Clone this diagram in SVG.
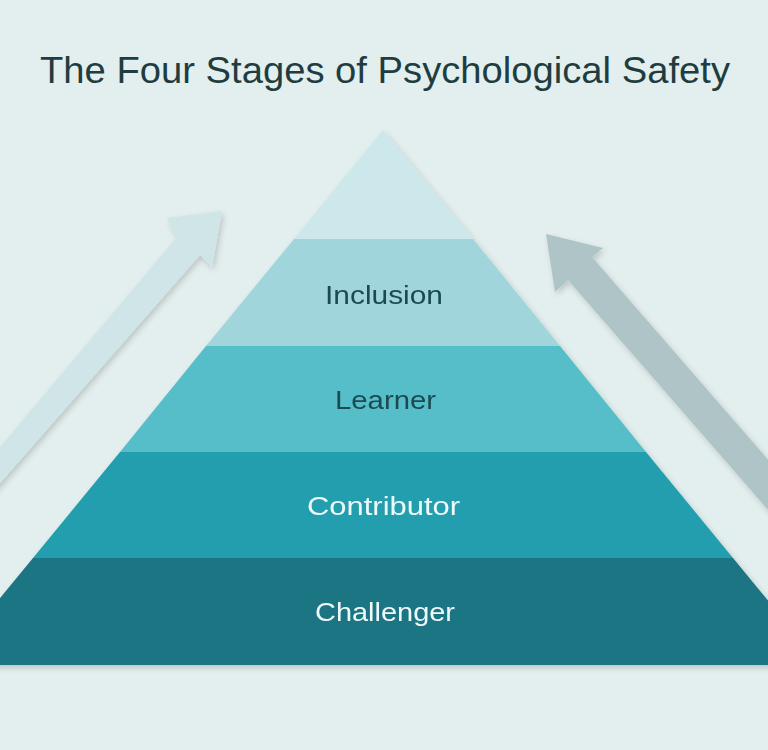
<svg xmlns="http://www.w3.org/2000/svg" width="768" height="750" viewBox="0 0 768 750">
  <defs>
    <filter id="shadow" x="-20%" y="-20%" width="140%" height="140%">
      <feGaussianBlur in="SourceAlpha" stdDeviation="3"/>
      <feOffset dx="2" dy="3" result="b"/>
      <feComponentTransfer><feFuncA type="linear" slope="0.18"/></feComponentTransfer>
      <feMerge><feMergeNode/><feMergeNode in="SourceGraphic"/></feMerge>
    </filter>
  </defs>
  <style>
    .title { font-family: "Liberation Sans", Arial, sans-serif; font-size: 36px; fill: #1f3d40; }
    .lbl { font-family: "Liberation Sans", Arial, sans-serif; font-size: 26px; }
    .dark { fill: #1b4a52; }
    .light { fill: #eef9f9; }
  </style>
  <rect width="768" height="750" fill="#e3efee"/>
  <text class="title" x="40" y="83" textLength="690" lengthAdjust="spacingAndGlyphs">The Four Stages of Psychological Safety</text>

  <g id="connectors">
    <polygon id="arrow-left" filter="url(#shadow)" fill="#cfe5e7" points="222,211 212,267 200,255 -20,506 -20,471 177,237 167,218"/>
    <polygon id="arrow-right" filter="url(#shadow)" fill="#aec4c6" points="546,234 603,248 592,257 790,485 790,535 568,280 555,292"/>
  </g>

  <g id="pyramid" filter="url(#shadow)">
    <g id="apex">
      <polygon fill="#cce8ea" points="383,130 473,239 294,239"/>
    </g>
    <g id="inclusion">
      <polygon fill="#a0d5db" points="294,239 473,239 560,346 206,346"/>
      <text class="lbl dark" x="325" y="304" textLength="118" lengthAdjust="spacingAndGlyphs">Inclusion</text>
    </g>
    <g id="learner">
      <polygon fill="#55bec8" points="206,346 560,346 646,452 120,452"/>
      <text class="lbl dark" x="335" y="409" textLength="101" lengthAdjust="spacingAndGlyphs">Learner</text>
    </g>
    <g id="contributor">
      <polygon fill="#239eae" points="120,452 646,452 733,558 33,558"/>
      <text class="lbl light" x="307" y="515" textLength="153" lengthAdjust="spacingAndGlyphs">Contributor</text>
    </g>
    <g id="challenger">
      <polygon fill="#1b7582" points="33,558 733,558 821,665 -55,665"/>
      <text class="lbl light" x="315" y="621" textLength="140" lengthAdjust="spacingAndGlyphs">Challenger</text>
    </g>
  </g>
</svg>
